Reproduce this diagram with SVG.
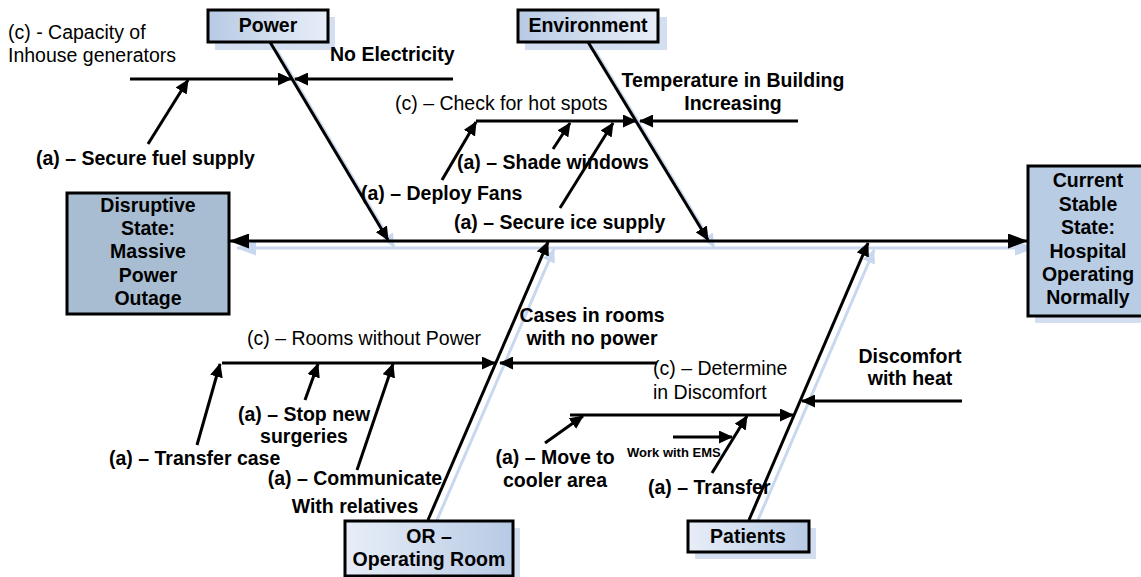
<svg xmlns="http://www.w3.org/2000/svg" width="1141" height="577" viewBox="0 0 1141 577">
  <defs>
    <style>
      .t { font-family: "Liberation Sans", Arial, sans-serif; font-size: 19.5px; fill: #000; }
      .b { font-weight: bold; }
      .m { text-anchor: middle; }
      .ln { stroke: #000; stroke-width: 3; fill: none; }
      .sh { stroke: #c9d8ee; stroke-width: 3; fill: none; }
      .box { stroke: #000; stroke-width: 3; }
      .boxsh { fill: #d3dff0; }
    </style>
    <linearGradient id="gTop" x1="0" y1="0" x2="1" y2="0">
      <stop offset="0" stop-color="#b7cae4"/>
      <stop offset="1" stop-color="#e8eef8"/>
    </linearGradient>
    <linearGradient id="gBot" x1="0" y1="0" x2="1" y2="0">
      <stop offset="0" stop-color="#e8eef8"/>
      <stop offset="1" stop-color="#b7cae4"/>
    </linearGradient>
    <marker id="ah" markerUnits="userSpaceOnUse" viewBox="0 0 14 13" markerWidth="14" markerHeight="13" refX="13" refY="6.5" orient="auto">
      <path d="M0,0 L14,6.5 L0,13 z" fill="#000"/>
    </marker>
    <marker id="ahL" markerUnits="userSpaceOnUse" viewBox="0 0 20 15" markerWidth="20" markerHeight="15" refX="19" refY="7.5" orient="auto-start-reverse">
      <path d="M0,0 L20,7.5 L0,15 z" fill="#000"/>
    </marker>
    <marker id="ahSh" markerUnits="userSpaceOnUse" viewBox="0 0 14 13" markerWidth="14" markerHeight="13" refX="13" refY="6.5" orient="auto">
      <path d="M0,0 L14,6.5 L0,13 z" fill="#c9d8ee"/>
    </marker>
    <marker id="ahLSh" markerUnits="userSpaceOnUse" viewBox="0 0 20 15" markerWidth="20" markerHeight="15" refX="19" refY="7.5" orient="auto-start-reverse">
      <path d="M0,0 L20,7.5 L0,15 z" fill="#c9d8ee"/>
    </marker>
  </defs>

  <rect width="1141" height="577" fill="#fff"/>

  <!-- soft drop shadows under spine and bones -->
  <g id="shadows">
    <line class="sh" x1="237" y1="248" x2="1034" y2="248" marker-start="url(#ahLSh)" marker-end="url(#ahLSh)"/>
    <line class="sh" x1="276" y1="49" x2="394" y2="247" marker-end="url(#ahSh)"/>
    <line class="sh" x1="594" y1="49" x2="714" y2="247" marker-end="url(#ahSh)"/>
    <line class="sh" x1="434" y1="527" x2="554" y2="249" marker-end="url(#ahSh)"/>
    <line class="sh" x1="755" y1="527" x2="874" y2="250" marker-end="url(#ahSh)"/>
    <rect class="boxsh" x="215" y="17" width="120" height="33"/>
    <rect class="boxsh" x="525" y="17" width="142" height="33"/>
    <rect class="boxsh" x="352" y="528" width="168" height="55"/>
    <rect class="boxsh" x="695" y="528" width="121" height="31"/>
    <rect class="boxsh" x="1035" y="173" width="120" height="150"/>
  </g>

  <g id="connectors">
    <!-- spine -->
    <line class="ln" x1="230" y1="241" x2="1027" y2="241" marker-start="url(#ahL)" marker-end="url(#ahL)"/>
    <!-- main bones -->
    <line class="ln" x1="270" y1="42" x2="388" y2="240" marker-end="url(#ah)"/>
    <line class="ln" x1="588" y1="42" x2="708" y2="240" marker-end="url(#ah)"/>
    <line class="ln" x1="428" y1="520" x2="548" y2="242" marker-end="url(#ah)"/>
    <line class="ln" x1="749" y1="520" x2="868" y2="243" marker-end="url(#ah)"/>

    <!-- Power branch -->
    <line class="ln" x1="130" y1="79" x2="291" y2="79" marker-end="url(#ah)"/>
    <line class="ln" x1="453" y1="79" x2="295" y2="79" marker-end="url(#ah)"/>
    <line class="ln" x1="148" y1="144" x2="188" y2="80" marker-end="url(#ah)"/>

    <!-- Environment branch -->
    <line class="ln" x1="476" y1="121" x2="636" y2="121" marker-end="url(#ah)"/>
    <line class="ln" x1="798" y1="121" x2="640" y2="121" marker-end="url(#ah)"/>
    <line class="ln" x1="442" y1="180" x2="476" y2="122" marker-end="url(#ah)"/>
    <line class="ln" x1="553" y1="149" x2="570" y2="123" marker-end="url(#ah)"/>
    <line class="ln" x1="560" y1="208" x2="613" y2="123" marker-end="url(#ah)"/>

    <!-- OR branch -->
    <line class="ln" x1="222" y1="363" x2="495" y2="363" marker-end="url(#ah)"/>
    <line class="ln" x1="657" y1="363" x2="500" y2="363" marker-end="url(#ah)"/>
    <line class="ln" x1="197" y1="445" x2="220" y2="364" marker-end="url(#ah)"/>
    <line class="ln" x1="305" y1="400" x2="318" y2="364" marker-end="url(#ah)"/>
    <line class="ln" x1="357" y1="470" x2="393" y2="364" marker-end="url(#ah)"/>

    <!-- Patients branch -->
    <line class="ln" x1="570" y1="415" x2="793" y2="415" marker-end="url(#ah)"/>
    <line class="ln" x1="962" y1="401" x2="802" y2="401" marker-end="url(#ah)"/>
    <line class="ln" x1="545" y1="443" x2="583" y2="416" marker-end="url(#ah)"/>
    <line class="ln" x1="712" y1="473" x2="747" y2="416" marker-end="url(#ah)"/>
    <line class="ln" x1="673" y1="437" x2="732" y2="437" marker-end="url(#ah)"/>
  </g>

  <g id="node-disruptive">
    <rect class="box" x="67" y="193" width="162" height="121" fill="#a9bdd2"/>
    <text class="t b m" x="148" y="212">Disruptive</text>
    <text class="t b m" x="148" y="235">State:</text>
    <text class="t b m" x="148" y="258">Massive</text>
    <text class="t b m" x="148" y="282">Power</text>
    <text class="t b m" x="148" y="305">Outage</text>
  </g>

  <g id="node-current">
    <rect class="box" x="1028" y="166" width="122" height="150" fill="#b8cce4"/>
    <text class="t b m" x="1088" y="187">Current</text>
    <text class="t b m" x="1088" y="211">Stable</text>
    <text class="t b m" x="1088" y="234">State:</text>
    <text class="t b m" x="1088" y="258">Hospital</text>
    <text class="t b m" x="1088" y="281">Operating</text>
    <text class="t b m" x="1088" y="304">Normally</text>
  </g>

  <g id="node-power">
    <rect class="box" x="208" y="10" width="120" height="32" fill="url(#gTop)"/>
    <text class="t b m" x="268" y="32">Power</text>
  </g>

  <g id="node-environment">
    <rect class="box" x="518" y="10" width="140" height="32" fill="url(#gTop)"/>
    <text class="t b m" x="588" y="32">Environment</text>
  </g>

  <g id="node-or">
    <rect class="box" x="345" y="521" width="168" height="55" fill="url(#gBot)"/>
    <text class="t b m" x="429" y="543">OR –</text>
    <text class="t b m" x="429" y="566">Operating Room</text>
  </g>

  <g id="node-patients">
    <rect class="box" x="688" y="521" width="121" height="31" fill="url(#gBot)"/>
    <text class="t b m" x="748" y="543">Patients</text>
  </g>

  <g id="labels">
    <!-- Power -->
    <text class="t" x="8" y="39">(c) - Capacity of</text>
    <text class="t" x="8" y="62">Inhouse generators</text>
    <text class="t b" x="330" y="61">No Electricity</text>
    <text class="t b" x="36" y="165">(a) – Secure fuel supply</text>

    <!-- Environment -->
    <text class="t" x="395" y="110">(c) – Check for hot spots</text>
    <text class="t b m" x="733" y="87">Temperature in Building</text>
    <text class="t b m" x="733" y="110">Increasing</text>
    <text class="t b" x="457" y="169">(a) – Shade windows</text>
    <text class="t b" x="361" y="200">(a) – Deploy Fans</text>
    <text class="t b" x="454" y="229">(a) – Secure ice supply</text>

    <!-- OR -->
    <text class="t" x="247" y="345">(c) – Rooms without Power</text>
    <text class="t b m" x="592" y="322">Cases in rooms</text>
    <text class="t b m" x="592" y="345">with no power</text>
    <text class="t b m" x="304" y="421">(a) – Stop new</text>
    <text class="t b m" x="304" y="443">surgeries</text>
    <text class="t b" x="109" y="465">(a) – Transfer case</text>
    <text class="t b m" x="355" y="485">(a) – Communicate</text>
    <text class="t b m" x="355" y="513">With relatives</text>

    <!-- Patients -->
    <text class="t" x="653" y="375">(c) – Determine</text>
    <text class="t" x="653" y="399">in Discomfort</text>
    <text class="t b m" x="910" y="363">Discomfort</text>
    <text class="t b m" x="910" y="385">with heat</text>
    <text class="t b m" x="555" y="464">(a) – Move to</text>
    <text class="t b m" x="555" y="487">cooler area</text>
    <text class="t b" x="627" y="457" style="font-size:13px">Work with EMS</text>
    <text class="t b" x="648" y="494">(a) – Transfer</text>
  </g>
</svg>
